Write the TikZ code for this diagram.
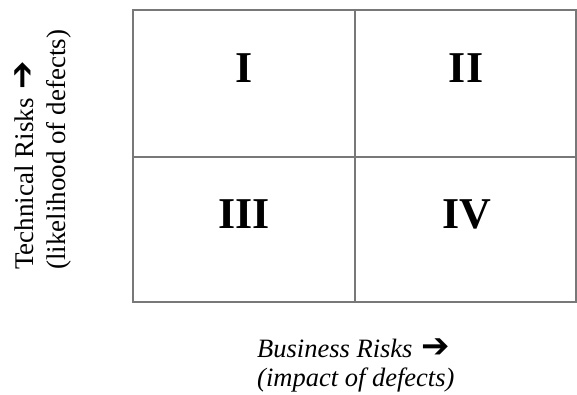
\documentclass[tikz,border=0pt]{standalone}
\usepackage{fontspec}
\setmainfont{Liberation Serif}
\newfontfamily\arrowfont{DejaVu Sans}
\newcommand{\riskarrow}{\hspace{2pt}{\arrowfont\upshape\bfseries\fontsize{34}{34}\selectfont ➔}}

\begin{document}
\begin{tikzpicture}[x=1pt,y=1pt,yscale=-1,xscale=1,
  gridline/.style={color={rgb, 255:red, 120; green, 120; blue, 120 }, line width=1.5pt},
  quadlabel/.style={inner sep=0pt, font=\fontsize{44}{44}\selectfont\bfseries},
  axislabel/.style={inner sep=0pt, anchor=base west, font=\fontsize{27}{30}\selectfont}]
\useasboundingbox (0,0) rectangle (577,394);

%Rectangle [id:grid]
\draw [gridline] (133,10) rectangle (576,302) ;
%Straight Lines [id:vsplit]
\draw [gridline] (355,10) -- (355,302) ;
%Straight Lines [id:hsplit]
\draw [gridline] (133,157) -- (576,157) ;

% Text Node
\node [quadlabel] (qI) at (244,68) {I};
% Text Node
\node [quadlabel] (qII) at (466,68) {II};
% Text Node
\node [quadlabel] (qIII) at (244,214) {III};
% Text Node
\node [quadlabel] (qIV) at (467,214) {IV};

% Text Node
\node [axislabel, rotate=90] (techrisk) at (33,270) {Technical Risks \riskarrow};
% Text Node
\node [axislabel, rotate=90] (techsub) at (65,270) {(likelihood of defects)};
% Text Node
\node [axislabel, font=\fontsize{26.5}{30}\selectfont\itshape] (busrisk) at (257,357) {Business Risks \riskarrow};
% Text Node
\node [axislabel, font=\fontsize{26.5}{30}\selectfont\itshape] (bussub) at (257,386) {(impact of defects)};

\end{tikzpicture}
\end{document}
